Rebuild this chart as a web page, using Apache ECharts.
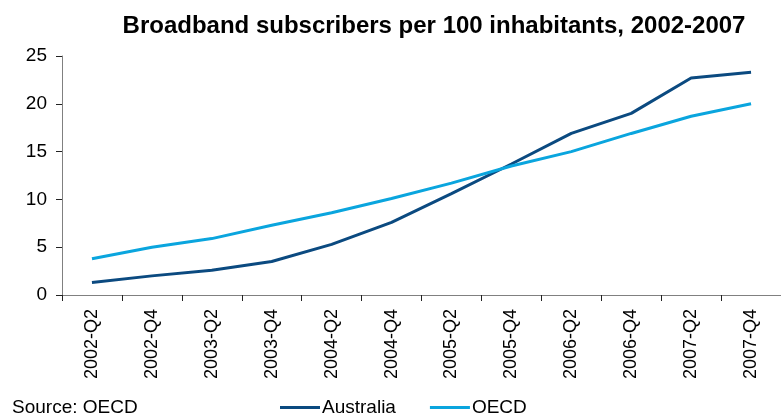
<!DOCTYPE html>
<html>
<head>
<meta charset="utf-8">
<script src="https://cdn.jsdelivr.net/npm/echarts@6/dist/echarts.min.js"></script>
<style>
  html, body { margin: 0; padding: 0; background: #fff; }
  #chart { width: 781px; height: 418px; }
</style>
</head>
<body>
<div id="chart"></div>
<script>
  // quarters on the x axis
  const quarters = ['2002-Q2', '2002-Q4', '2003-Q2', '2003-Q4', '2004-Q2', '2004-Q4',
    '2005-Q2', '2005-Q4', '2006-Q2', '2006-Q4', '2007-Q2', '2007-Q4']
  // subscribers per 100 inhabitants
  const australia = [1.3, 2.0, 2.6, 3.5, 5.3, 7.6, 10.6, 13.7, 16.9, 19.0, 22.7, 23.3]
  const oecd = [3.8, 5.0, 5.9, 7.3, 8.6, 10.1, 11.7, 13.5, 15.0, 16.9, 18.7, 20.0]
  const yTicks = [0, 5, 10, 15, 20, 25]

  const font = 'Liberation Sans, Arial, sans-serif'
  const darkBlue = '#0b4a80'
  const lightBlue = '#0aa5de'

  const myChart = echarts.init(document.getElementById('chart'))

  const option = {
    animation: false,
    title: {
      text: 'Broadband subscribers per 100 inhabitants, 2002-2007',
      left: 429,
      top: 9,
      textAlign: 'center',
      textStyle: {
        fontFamily: font,
        fontSize: 24,
        fontWeight: 'bold',
        color: '#000'
      }
    },
    legend: {
      left: 280,
      top: 398,
      padding: 0,
      icon: 'rect',
      itemWidth: 40,
      itemHeight: 3,
      itemGap: 34,
      textStyle: {
        fontFamily: font,
        fontSize: 19,
        color: '#000',
        padding: [0, 0, 0, -3]
      },
      data: ['Australia', 'OECD']
    },
    grid: {
      left: 62,
      top: 56,
      bottom: 123,
      right: -7
    },
    xAxis: {
      type: 'category',
      data: quarters,
      boundaryGap: true,
      axisLine: { lineStyle: { color: '#808080', width: 1 } },
      axisTick: { show: true, length: 6, lineStyle: { color: '#222' } },
      axisLabel: {
        rotate: 90,
        margin: 14,
        fontFamily: font,
        fontSize: 18,
        color: '#000'
      }
    },
    yAxis: {
      type: 'value',
      min: yTicks[0],
      max: yTicks[yTicks.length - 1],
      interval: 5,
      splitLine: { show: false },
      axisLine: { show: true, lineStyle: { color: '#808080', width: 1 } },
      axisTick: { show: true, length: 6, lineStyle: { color: '#222' } },
      axisLabel: {
        margin: 15,
        fontFamily: font,
        fontSize: 19,
        color: '#000'
      }
    },
    graphic: [{
      type: 'text',
      left: 12,
      top: 398,
      style: {
        text: 'Source: OECD',
        fontFamily: font,
        fontSize: 19,
        fill: '#000'
      }
    }],
    series: [{
      name: 'Australia',
      type: 'line',
      data: australia,
      symbol: 'none',
      lineStyle: { color: darkBlue, width: 3 },
      itemStyle: { color: darkBlue }
    }, {
      name: 'OECD',
      type: 'line',
      data: oecd,
      symbol: 'none',
      lineStyle: { color: lightBlue, width: 3 },
      itemStyle: { color: lightBlue }
    }]
  }

  myChart.setOption(option)
</script>
</body>
</html>
